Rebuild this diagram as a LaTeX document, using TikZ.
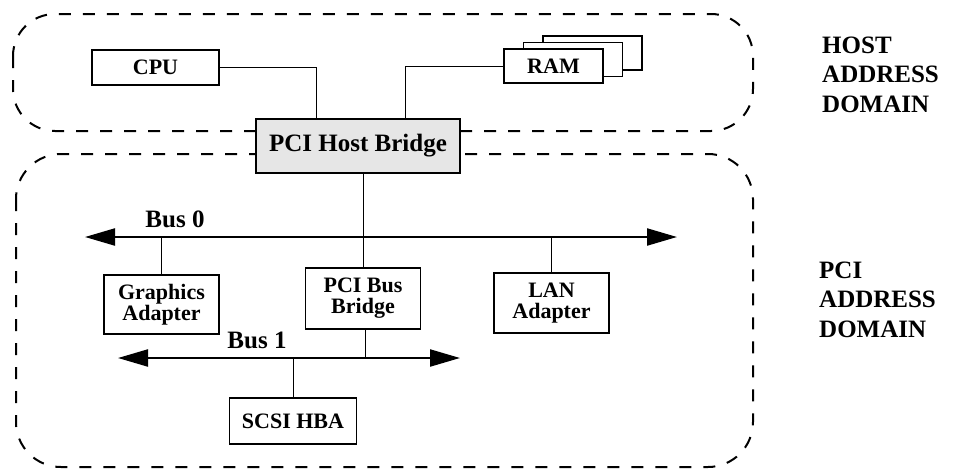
\documentclass[tikz,border=0pt]{standalone}
\usepackage{fontspec}
\setmainfont{Liberation Serif}
\usetikzlibrary{arrows.meta,calc}
\definecolor{hbgray}{HTML}{E6E6E6}
\begin{document}
\begin{tikzpicture}[x=1pt,y=-1pt,
  box/.style={draw, line width=1.1pt, fill=white, inner sep=0pt, font=\fontsize{22}{21}\selectfont\bfseries, align=center},
  link/.style={line width=1pt},
  bus/.style={line width=2.2pt, {Triangle[length=30pt,width=17pt]}-{Triangle[length=30pt,width=17pt]}},
  addrdom/.style={line width=2pt, dash pattern=on 12pt off 12pt},
  buslabel/.style={font=\fontsize{25}{25}\selectfont\bfseries, anchor=base, inner sep=0pt},
  domlabel/.style={font=\fontsize{25}{29.5}\selectfont\bfseries, align=left, anchor=base west, inner sep=0pt}]
\useasboundingbox (0,0) rectangle (954,469);
% address domains
\draw[addrdom, rounded corners=42pt] (13,14) rectangle (753,131);
\draw[addrdom, rounded corners=45pt] (16,154) rectangle (753,467);
% host domain nodes
\node[box, minimum width=127pt, minimum height=35pt] (cpu) at (155.5,67.5) {CPU};
\node[box, minimum width=99pt, minimum height=34pt] (ram3) at (592.5,53) {};
\node[box, minimum width=99pt, minimum height=34pt] (ram2) at (573,59.5) {};
\node[box, minimum width=99pt, minimum height=34pt] (ram) at (553.5,66) {RAM};
\node[box, fill=hbgray, minimum width=204pt, minimum height=54pt, font=\fontsize{25}{25}\selectfont\bfseries] (hb) at (358,146) {PCI Host Bridge};
\coordinate (hbin1) at (316,119);
\coordinate (hbin2) at (405,119);
\draw[link] (cpu.east) -| (hbin1);
\draw[link] (hbin2) |- (ram.west);
% buses
\coordinate (b0l) at (85,237);
\coordinate (b0r) at (677,237);
\coordinate (b1l) at (118,358);
\coordinate (b1r) at (460,358);
% PCI nodes
\node[box, minimum width=115pt, minimum height=59pt] (ga) at (161.5,304.5) {Graphics\\Adapter};
\node[box, minimum width=115pt, minimum height=61pt] (pbb) at (363,298.5) {PCI Bus\\Bridge};
\node[box, minimum width=115pt, minimum height=60pt] (lan) at (551.5,303) {LAN\\Adapter};
\node[box, minimum width=127pt, minimum height=46pt] (scsi) at (293,421) {SCSI HBA};
\draw[link] (hb.south -| pbb.north) -- (pbb.north);
\draw[link] (ga.north) -- (ga.north |- b0l);
\draw[link] (lan.north) -- (lan.north |- b0l);
\draw[link] ($(pbb.south)+(2,0)$) -- ($(pbb.south |- b1l)+(2,0)$);
\draw[link] (scsi.north) -- (scsi.north |- b1l);
\draw[bus] (b0l) -- (b0r);
\draw[bus] (b1l) -- (b1r);
\node[buslabel] (bus0) at (175,227) {Bus 0};
\node[buslabel] (bus1) at (257,348) {Bus 1};
% domain labels
\node[domlabel] (hostdom) at (822,112) {HOST\\ADDRESS\\DOMAIN};
\node[domlabel] (pcidom) at (819,337) {PCI\\ADDRESS\\DOMAIN};
\end{tikzpicture}
\end{document}
